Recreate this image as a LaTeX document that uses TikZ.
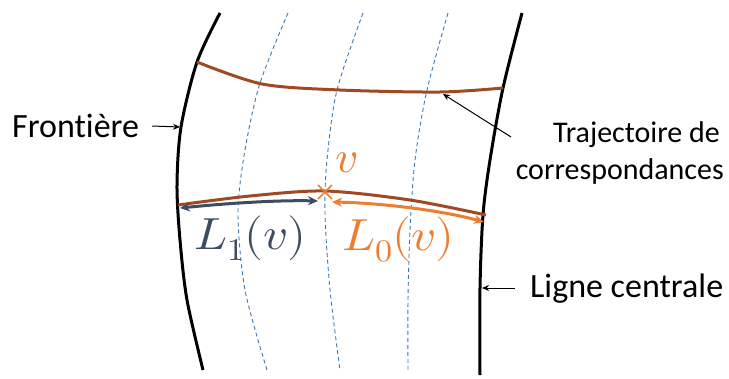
\documentclass[tikz,border=0pt]{standalone}
\usepackage{fontspec}
\setmainfont{Carlito}[Ligatures={NoCommon}]
\usepackage{unicode-math}
\usetikzlibrary{arrows.meta}
\definecolor{brownline}{RGB}{160,74,36}
\definecolor{orangeL}{RGB}{237,125,49}
\definecolor{slateL}{RGB}{62,76,98}
\definecolor{dashblue}{RGB}{60,120,180}
\tikzset{
  bound/.style={line width=3pt, black},
  traj/.style={line width=3pt, brownline},
  guide/.style={line width=0.9pt, dashblue, dash pattern=on 4pt off 3pt},
  lbl/.style={font=\fontsize{34}{40}\selectfont, inner sep=0pt},
  rlbl/.style={font=\fontsize{30}{36}\selectfont, inner sep=0pt},
  mlbl/.style={font=\fontsize{45}{50}\selectfont, inner sep=0pt},
  ptr/.style={line width=1pt, -{Stealth[length=7pt,width=6pt]}},
  dbl/.style={line width=3pt, {Stealth[length=10pt,width=9pt]}-{Stealth[length=10pt,width=9pt]}},
}
\begin{document}
\begin{tikzpicture}[x=1pt,y=-1pt]
\useasboundingbox (0,0) rectangle (729,378);
% guides
\draw[guide] plot[smooth] coordinates {(288,13) (260,83) (245,150) (238,213) (245,290) (267,370)};
\draw[guide] plot[smooth] coordinates {(363,13) (337,90) (327,160) (325,213) (330,290) (340,370)};
\draw[guide] plot[smooth] coordinates {(448,13) (427,90) (415,160) (410,230) (408,300) (408,370)};
% boundaries
\draw[bound] plot[smooth] coordinates {(220,13) (197,62) (181,127) (177,185) (180,240) (187,300) (203,370)};
\draw[bound] plot[smooth] coordinates {(522,13) (503,88) (490,160) (483,215) (480,288) (480,375)};
% trajectories
\draw[traj] plot[smooth] coordinates {(197,62) (262,84) (340,90) (440,92) (503,88)};
\draw[traj] plot[smooth] coordinates {(178,205) (250,196) (325,191) (410,200) (486,215)};
% coordinates on curves
\coordinate (fr) at (180,127);
\coordinate (lc) at (482,288);
\coordinate (tr) at (443,94);
\coordinate (v) at (325,192);
\coordinate (a1) at (180,208);
\coordinate (b1) at (318,201);
\coordinate (a0) at (332,202);
\coordinate (b0) at (484,222);
% arrows
\draw[dbl, slateL] (a1) .. controls (230,203) and (280,200) .. (b1);
\draw[dbl, orangeL] (a0) .. controls (380,203) and (440,210) .. (b0);
% cross
\draw[orangeL, line width=1.6pt] (318,185) -- (332,199) (332,185) -- (318,199);
% labels
\node[lbl, anchor=base west] (front) at (12,137) {Frontière};
\node[rlbl, anchor=base east] (traj1) at (720,142) {Trajectoire de};
\node[rlbl, anchor=base east] (traj2) at (724,179) {correspondances};
\node[lbl, anchor=base west] (ligne) at (530,297) {Ligne centrale};
\node[mlbl, anchor=base west, text=orangeL] (vl) at (335,172) {$v$};
\node[mlbl, anchor=base west, text=slateL] (l1) at (194,249) {\scalebox{1.08}[1]{$L_1(v)$}};
\node[mlbl, anchor=base west, text=orangeL] (l0) at (342,250) {\scalebox{1.08}[1]{$L_0(v)$}};
\coordinate (fs) at (152,126);
\coordinate (ls) at (515,288);
\coordinate (ts) at (511,137);
\draw[ptr] (fs) -- (fr);
\draw[ptr] (ls) -- (lc);
\draw[ptr] (ts) -- (tr);
\end{tikzpicture}
\end{document}
